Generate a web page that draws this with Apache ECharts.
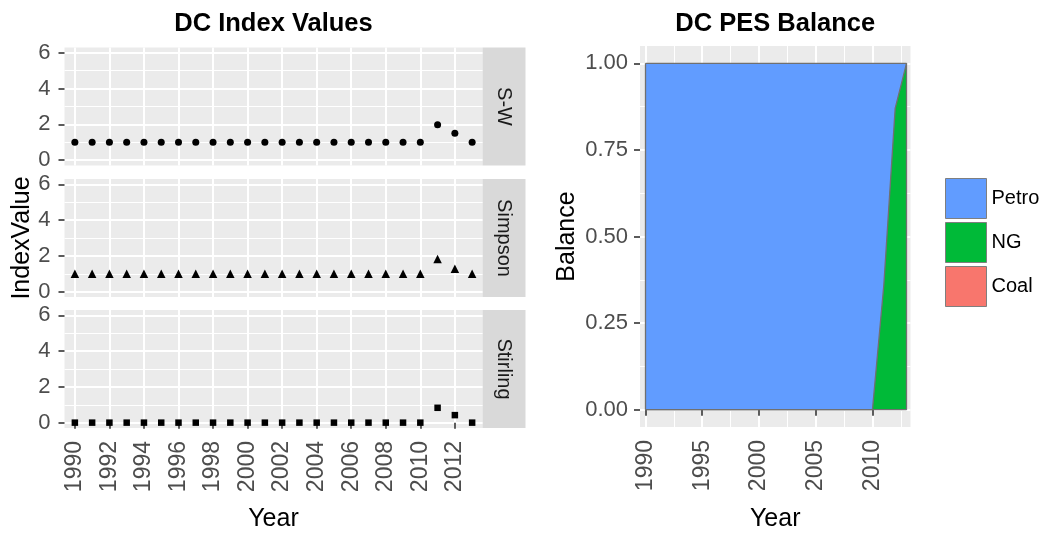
<!DOCTYPE html>
<html>
<head>
<meta charset="utf-8">
<script src="https://cdn.jsdelivr.net/npm/echarts@6/dist/echarts.min.js"></script>
<style>
  html, body { margin: 0; padding: 0; background: #ffffff; }
  #chart { width: 1046px; height: 533px; }
</style>
</head>
<body>
<div id="chart"></div>
<script>
// Years covered by both panels
const years = [1990, 1991, 1992, 1993, 1994, 1995, 1996, 1997, 1998, 1999, 2000, 2001,
               2002, 2003, 2004, 2005, 2006, 2007, 2008, 2009, 2010, 2011, 2012, 2013];

// Diversity indices, one array per facet
const swIndex       = [1, 1, 1, 1, 1, 1, 1, 1, 1, 1, 1, 1, 1, 1, 1, 1, 1, 1, 1, 1, 1, 1.98, 1.5, 1];
const simpsonIndex  = [1, 1, 1, 1, 1, 1, 1, 1, 1, 1, 1, 1, 1, 1, 1, 1, 1, 1, 1, 1, 1, 1.83, 1.28, 1];
const stirlingIndex = [0, 0, 0, 0, 0, 0, 0, 0, 0, 0, 0, 0, 0, 0, 0, 0, 0, 0, 0, 0, 0, 0.83, 0.42, 0];

// Primary energy source shares
const petroShare = [1, 1, 1, 1, 1, 1, 1, 1, 1, 1, 1, 1, 1, 1, 1, 1, 1, 1, 1, 1, 1, 0.64, 0.13, 0];
const ngShare    = [0, 0, 0, 0, 0, 0, 0, 0, 0, 0, 0, 0, 0, 0, 0, 0, 0, 0, 0, 0, 0, 0.36, 0.87, 1];
const coalShare  = [0, 0, 0, 0, 0, 0, 0, 0, 0, 0, 0, 0, 0, 0, 0, 0, 0, 0, 0, 0, 0, 0, 0, 0];

// Labels and tick positions
const facetNames = ['S-W', 'Simpson', 'Stirling'];
const fuelNames = ['Petro', 'NG', 'Coal'];
const indexYearTicks = [1990, 1992, 1994, 1996, 1998, 2000, 2002, 2004, 2006, 2008, 2010, 2012];
const balanceYearTicks = [1990, 1995, 2000, 2005, 2010];
const balanceYearMinor = [1992.5, 1997.5, 2002.5, 2007.5, 2012.5];
const indexValueTicks = [0, 2, 4, 6];
const indexValueMinor = [1, 3, 5];
const balanceTicks = [0, 0.25, 0.5, 0.75, 1];
const balanceMinor = [0.125, 0.375, 0.625, 0.875];

const FONT = 'Liberation Sans, Arial, Helvetica, sans-serif';
const PANEL_BG = '#EBEBEB';
const TICK_TEXT = '#4D4D4D';
const TICK_LINE = '#333333';
const fuelColors = { Petro: '#619CFF', NG: '#00BA38', Coal: '#F8766D' };
const AREA_EDGE = '#707070';
const Y_TICK_SIZE = 22, X_TICK_SIZE = 23;

// Panel geometry
const facetLeft = 64.5, facetWidth = 418, facetHeight = 118;
const facetTops = [47.5, 179, 310];
const stripWidth = 43;
const balanceGrid = { left: 640, top: 46, width: 270.5, height: 381 };

const chart = echarts.init(document.getElementById('chart'), null, { renderer: 'canvas' });

const gridBase = { show: true, backgroundColor: PANEL_BG, borderWidth: 0,
                   containLabel: false, outerBoundsMode: 'none' };
const grids = facetTops.map(t => Object.assign({}, gridBase,
  { left: facetLeft, top: t, width: facetWidth, height: facetHeight }));
grids.push(Object.assign({}, gridBase, balanceGrid));

const majorSplit = { show: true, lineStyle: { color: '#FFFFFF', width: 2 } };
const minorSplit = { show: true, lineStyle: { color: '#FFFFFF', width: 1 } };
const yearText = v => String(v);
const tickLine = { color: TICK_LINE, width: 1.6 };
const nameStyle = { fontSize: 25, fontFamily: FONT, color: '#000000' };

// x axes
const xAxes = [];
facetTops.forEach((t, i) => {
  const bottom = i === facetTops.length - 1;
  xAxes.push({
    type: 'value', gridIndex: i, min: 1989.4, max: 2013.6,
    axisLine: { show: false },
    axisTick: { show: bottom, customValues: indexYearTicks, length: 6, lineStyle: tickLine },
    axisLabel: { show: bottom, customValues: indexYearTicks, rotate: 90, margin: 13, formatter: yearText,
                 fontSize: X_TICK_SIZE, fontFamily: FONT, color: TICK_TEXT },
    splitLine: majorSplit,
    name: bottom ? 'Year' : '', nameLocation: 'middle', nameGap: 79,
    nameTextStyle: nameStyle
  });
});
xAxes.push({
  type: 'value', gridIndex: 3, min: 1989.515, max: 2013.35,
  axisLine: { show: false },
  axisTick: { show: true, customValues: balanceYearTicks, length: 6, lineStyle: tickLine },
  axisLabel: { show: true, customValues: balanceYearTicks, rotate: 90, margin: 13, formatter: yearText,
               fontSize: X_TICK_SIZE, fontFamily: FONT, color: TICK_TEXT },
  splitLine: majorSplit,
  name: 'Year', nameLocation: 'middle', nameGap: 80,
  nameTextStyle: nameStyle
});
xAxes.push({
  type: 'value', gridIndex: 3, min: 1989.515, max: 2013.35,
  axisLine: { show: false },
  axisTick: { show: false, customValues: balanceYearMinor },
  axisLabel: { show: false, customValues: balanceYearMinor },
  splitLine: minorSplit
});

// y axes: major per facet, minor per facet, then balance major/minor
const yAxes = [];
facetTops.forEach((t, i) => {
  yAxes.push({
    type: 'value', gridIndex: i, min: -0.3, max: 6.3,
    axisLine: { show: false },
    axisTick: { show: true, customValues: indexValueTicks, length: 6, lineStyle: tickLine },
    axisLabel: { show: true, customValues: indexValueTicks, margin: 14,
                 fontSize: Y_TICK_SIZE, fontFamily: FONT, color: TICK_TEXT },
    splitLine: majorSplit,
    name: i === 1 ? 'IndexValue' : '', nameLocation: 'middle', nameGap: 28,
    nameTextStyle: nameStyle
  });
});
facetTops.forEach((t, i) => {
  yAxes.push({
    type: 'value', gridIndex: i, min: -0.3, max: 6.3,
    axisLine: { show: false },
    axisTick: { show: false, customValues: indexValueMinor },
    axisLabel: { show: false, customValues: indexValueMinor },
    splitLine: minorSplit
  });
});
yAxes.push({
  type: 'value', gridIndex: 3, min: -0.05, max: 1.05,
  axisLine: { show: false },
  axisTick: { show: true, customValues: balanceTicks, length: 6, lineStyle: tickLine },
  axisLabel: { show: true, customValues: balanceTicks, margin: 12, formatter: v => v.toFixed(2),
               fontSize: Y_TICK_SIZE, fontFamily: FONT, color: TICK_TEXT },
  splitLine: majorSplit,
  name: 'Balance', nameLocation: 'middle', nameGap: 60,
  nameTextStyle: nameStyle
});
yAxes.push({
  type: 'value', gridIndex: 3, min: -0.05, max: 1.05,
  axisLine: { show: false },
  axisTick: { show: false, customValues: balanceMinor },
  axisLabel: { show: false, customValues: balanceMinor },
  splitLine: minorSplit
});

// Index facets: one scatter per panel
const facetSeriesData = [swIndex, simpsonIndex, stirlingIndex];
const facetSymbols = [['circle', 7], ['triangle', 8.5], ['rect', 6.5]];
const series = facetSeriesData.map((vals, i) => ({
  type: 'scatter', name: facetNames[i], xAxisIndex: i, yAxisIndex: i,
  symbol: facetSymbols[i][0], symbolSize: facetSymbols[i][1],
  itemStyle: { color: '#000000', opacity: 1 },
  silent: true,
  data: years.map((y, k) => [y, vals[k]])
}));

// Balance panel: layered areas. Each layer's top is the running total of the
// shares beneath it, so Petro (drawn first) spans everything and NG, Coal paint over it.
const stackOrder = ['Coal', 'NG', 'Petro'];           // bottom to top
const shares = { Petro: petroShare, NG: ngShare, Coal: coalShare };
const layerTop = {};
let running = years.map(() => 0);
stackOrder.forEach(fuel => {
  running = running.map((v, k) => v + shares[fuel][k]);
  layerTop[fuel] = running.slice();
});
stackOrder.slice().reverse().forEach((fuel, idx) => {
  const s = {
    type: 'line', name: fuel, xAxisIndex: 3, yAxisIndex: 6,
    symbol: 'none', smooth: false, silent: true, z: 2 + idx * 0.01,
    lineStyle: { color: AREA_EDGE, width: 1.3 },
    itemStyle: { color: fuelColors[fuel] },
    areaStyle: { color: fuelColors[fuel], opacity: 1, origin: 'auto' },
    data: years.map((y, k) => [y, layerTop[fuel][k]])
  };
  if (fuel === 'Coal') {
    // side edges of the area outline
    s.markLine = {
      silent: true, symbol: ['none', 'none'], label: { show: false },
      lineStyle: { color: AREA_EDGE, width: 1.3, type: 'solid' },
      data: [
        [{ coord: [years[0], 0] }, { coord: [years[0], layerTop.Petro[0]] }],
        [{ coord: [years[years.length - 1], 0] }, { coord: [years[years.length - 1], layerTop.Petro[years.length - 1]] }]
      ]
    };
  }
  series.push(s);
});

// Titles and facet strips
const titleStyle = { fontSize: 25.5, fontWeight: 'bold', fontFamily: FONT, fill: '#000000',
                     align: 'center', verticalAlign: 'middle' };
const graphics = [
  { type: 'text', x: facetLeft + facetWidth / 2, y: 23.5,
    style: Object.assign({ text: 'DC Index Values' }, titleStyle) },
  { type: 'text', x: balanceGrid.left + balanceGrid.width / 2, y: 23.5,
    style: Object.assign({ text: 'DC PES Balance' }, titleStyle) }
];
facetTops.forEach((t, i) => {
  graphics.push({
    type: 'rect', shape: { x: facetLeft + facetWidth, y: t, width: stripWidth, height: facetHeight },
    style: { fill: '#D9D9D9' }, silent: true
  });
  graphics.push({
    type: 'text', x: facetLeft + facetWidth + stripWidth / 2, y: t + facetHeight / 2,
    rotation: -Math.PI / 2,
    style: { text: facetNames[i], fontSize: 20, fontFamily: FONT, fill: '#1A1A1A',
             align: 'center', verticalAlign: 'middle' }, silent: true
  });
});

chart.setOption({
  animation: false,
  backgroundColor: '#FFFFFF',
  textStyle: { fontFamily: FONT },
  grid: grids,
  xAxis: xAxes,
  yAxis: yAxes,
  legend: {
    orient: 'vertical', left: 945, top: 178, padding: 0,
    itemWidth: 41, itemHeight: 40, itemGap: 3, icon: 'rect',
    selectedMode: false,
    textStyle: { fontSize: 20, fontFamily: FONT, color: '#000000' },
    data: fuelNames.map(n => ({
      name: n,
      itemStyle: { color: fuelColors[n], borderColor: '#7F7F7F', borderWidth: 1 }
    }))
  },
  graphic: graphics,
  series: series
});
</script>
</body>
</html>
